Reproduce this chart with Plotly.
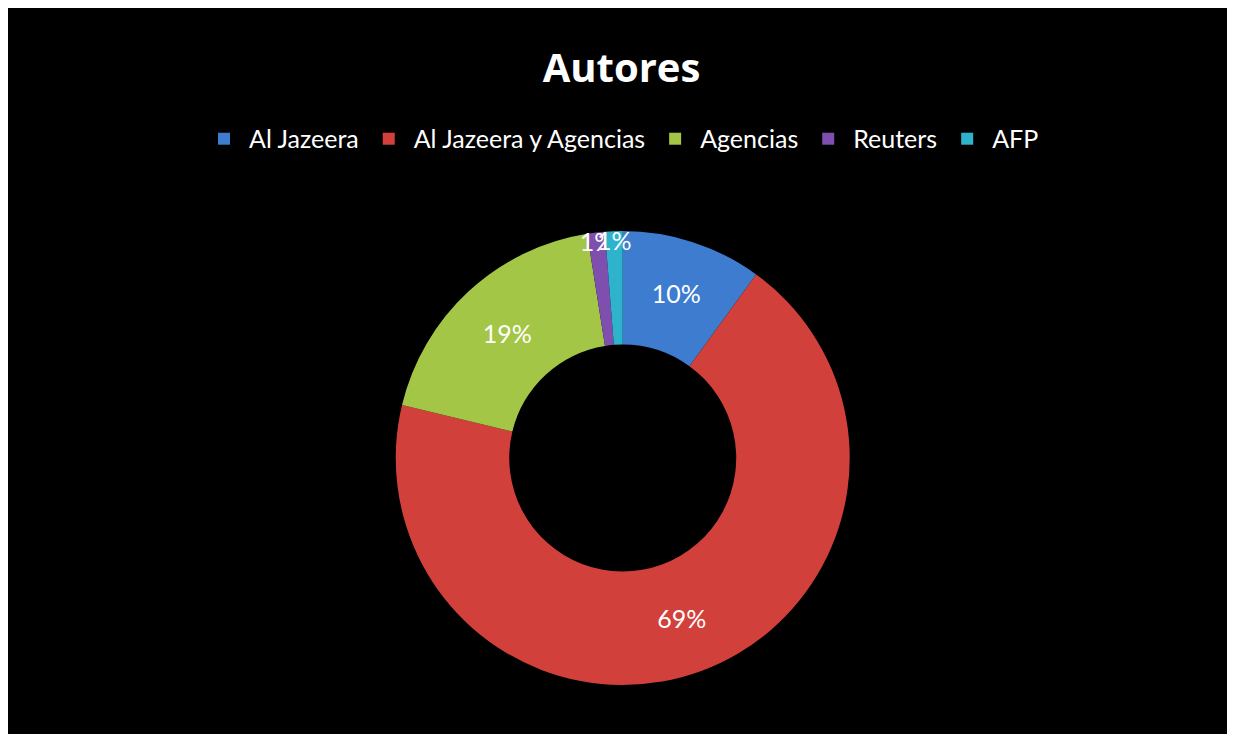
import plotly.graph_objects as go

categories = ["Al Jazeera", "Al Jazeera y Agencias", "Agencias", "Reuters", "AFP"]
values = [8, 55, 15, 1, 1]
colors = ["#3D7CCF", "#D2403B", "#A3C646", "#7E4FAE", "#2FB2CC"]

W, H = 1227, 726

fig = go.Figure(go.Pie(
    labels=categories,
    values=values,
    hole=0.5,
    sort=False,
    direction="clockwise",
    rotation=0,
    marker=dict(colors=colors, line=dict(width=0)),
    textinfo="percent",
    texttemplate="%{percent:.0%}",
    textposition="inside",
    insidetextorientation="horizontal",
    textfont=dict(color="white", size=25, family="Lato"),
    domain=dict(x=[0.002, 1.0], y=[0.0675, 0.6928]),
    hoverinfo="label+percent",
))

fig.update_layout(
    width=W, height=H,
    paper_bgcolor="black",
    plot_bgcolor="black",
    margin=dict(l=0, r=0, t=0, b=0),
    title=dict(text="<b>Autores</b>", x=0.5, xanchor="center", y=0.918, yanchor="middle",
               font=dict(family="Open Sans", size=40, color="white")),
    showlegend=True,
    legend=dict(orientation="h", x=0.5, xanchor="center", y=0.8196, yanchor="middle",
                font=dict(family="Lato", size=25, color="white"), itemwidth=40,
                bgcolor="rgba(0,0,0,0)", traceorder="normal"),
    uniformtext=dict(minsize=25, mode="show"),
)

fig.write_html("out.html")
